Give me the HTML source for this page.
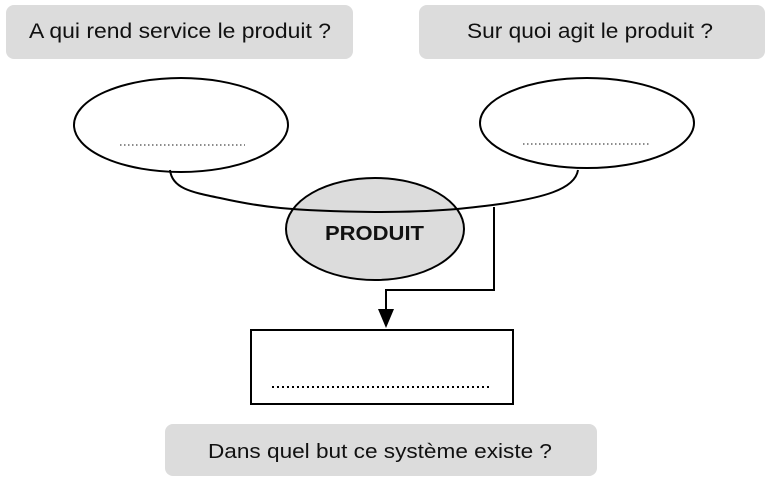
<!DOCTYPE html>
<html><head><meta charset="utf-8"><style>
html,body{margin:0;padding:0;background:#fff;}
svg{display:block;}
text{font-family:"Liberation Sans",Arial,sans-serif;}
</style></head><body>
<svg width="768" height="485" viewBox="0 0 768 485">
<rect x="6" y="5" width="347" height="54" rx="8" fill="#dcdcdc"/>
<rect x="419" y="5" width="346" height="54" rx="8" fill="#dcdcdc"/>
<text x="29" y="38" font-size="21" textLength="302" lengthAdjust="spacingAndGlyphs" fill="#111">A qui rend service le produit ?</text>
<text x="467" y="38" font-size="21" textLength="246" lengthAdjust="spacingAndGlyphs" fill="#111">Sur quoi agit le produit ?</text>
<ellipse cx="181" cy="125" rx="107" ry="47" fill="#fff" stroke="#000" stroke-width="2"/>
<ellipse cx="587" cy="123" rx="107" ry="45" fill="#fff" stroke="#000" stroke-width="2"/>
<line x1="120" y1="145" x2="245" y2="145" stroke="#666" stroke-width="1.5" stroke-dasharray="1.5,2.5"/>
<line x1="523" y1="144" x2="649" y2="144" stroke="#666" stroke-width="1.5" stroke-dasharray="1.5,2.5"/>
<ellipse cx="375" cy="229" rx="89" ry="51" fill="#dcdcdc" stroke="#000" stroke-width="2"/>
<path d="M170,170 C172,188 190,192 220,198 C260,207 290,211 375,212 C440,212 470,208 500,204 C540,198 575,190 578,170" fill="none" stroke="#000" stroke-width="2"/>
<text x="325" y="240" font-size="20" font-weight="bold" textLength="99" lengthAdjust="spacingAndGlyphs" fill="#111">PRODUIT</text>
<polyline points="494,207 494,290 386,290 386,310" fill="none" stroke="#000" stroke-width="2"/>
<polygon points="378,309 394,309 386,328" fill="#000"/>
<rect x="251" y="330" width="262" height="74" fill="#fff" stroke="#000" stroke-width="2"/>
<line x1="272" y1="387" x2="490" y2="387" stroke="#000" stroke-width="2" stroke-dasharray="2,3"/>
<rect x="165" y="424" width="432" height="52" rx="8" fill="#dcdcdc"/>
<text x="208" y="458" font-size="20" textLength="344" lengthAdjust="spacingAndGlyphs" fill="#111">Dans quel but ce système existe ?</text>
</svg>
</body></html>
